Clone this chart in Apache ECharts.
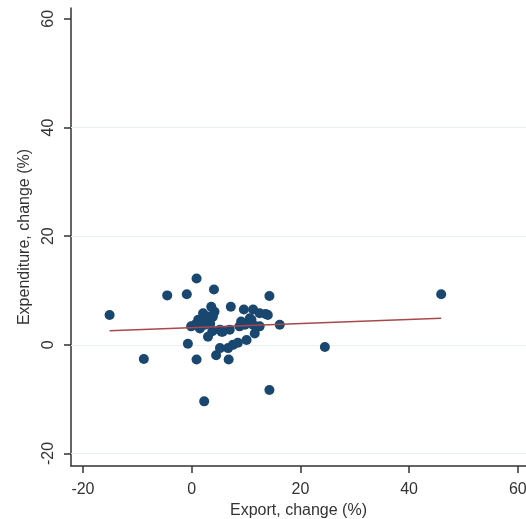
<!DOCTYPE html>
<html>
<head>
<meta charset="utf-8">
<script src="https://cdn.jsdelivr.net/npm/echarts@6/dist/echarts.min.js"></script>
<style>
  html, body { margin: 0; padding: 0; background: #ffffff; }
  #chart { width: 526px; height: 519px; }
</style>
</head>
<body>
<div id="chart"></div>
<script>
// Export change (%) vs expenditure change (%)
const exportChange = [
  -15.1, -8.8, -4.5, -0.9, 0.9, 4.1, 14.3, -0.7, 0.9, 2.3,
  14.3, 6.8, 16.2, 7.2, 9.6, 11.3, 13.6, 14.0, 3.6, 2.1,
  4.2, 1.2, 3.0, 0.6, -0.1, 2.4, 1.5, 3.0, 3.8, 5.2,
  7.0, 5.7, 10.7, 11.3, 9.8, 12.5, 8.8, 4.5, 5.2, 6.7,
  8.5, 10.1, 11.6, 11.9, 12.5, 24.5, 45.9, 1.8, 3.4, 7.6,
  9.1, 11.0, 5.5, 3.9
];
const expenditureChange = [
  5.5, -2.6, 9.1, 9.3, 12.2, 10.2, 9.0, 0.2, -2.7, -10.4,
  -8.3, -2.7, 3.7, 7.0, 6.5, 6.5, 5.7, 5.5, 7.0, 5.8,
  6.1, 4.6, 5.2, 3.7, 3.4, 3.7, 3.0, 1.5, 2.5, 2.8,
  2.8, 2.4, 4.9, 3.7, 3.7, 5.8, 3.4, -1.9, -0.6, -0.6,
  0.4, 0.9, 2.1, 3.2, 3.4, -0.4, 9.3, 4.3, 3.9, 0.0,
  4.3, 4.6, 2.4, 5.2
];
// Fitted line end points
const fitX = [-15.1, 45.9];
const fitY = [2.6, 4.9];

const xTicks = [-20, 0, 20, 40, 60];
const yTicks = [-20, 0, 20, 40, 60];
const yGridValues = [-20, 0, 20, 40];

const points = exportChange.map((x, i) => [x, expenditureChange[i]]);
const fitLine = fitX.map((x, i) => [x, fitY[i]]);

const textColor = '#333333';
const fontFamily = '"Liberation Sans", Arial, sans-serif';

const chart = echarts.init(document.getElementById('chart'), null, { renderer: 'canvas' });
chart.setOption({
  animation: false,
  backgroundColor: '#ffffff',
  grid: { left: 71, right: 0, top: 8, bottom: 53, containLabel: false, outerBoundsMode: 'none' },
  xAxis: {
    type: 'value',
    min: -22.2,
    max: 61.5,
    name: 'Export, change (%)',
    nameLocation: 'middle',
    nameGap: 34,
    nameTextStyle: { color: textColor, fontSize: 16, fontFamily: fontFamily },
    axisLine: { show: true, onZero: false, lineStyle: { color: '#333333', width: 1.5 } },
    axisTick: { show: true, customValues: xTicks, length: 7, lineStyle: { color: '#333333', width: 1.5 } },
    axisLabel: { customValues: xTicks, margin: 16, color: textColor, fontSize: 16, fontFamily: fontFamily, showMinLabel: true, showMaxLabel: true },
    splitLine: { show: false }
  },
  yAxis: {
    type: 'value',
    min: -22.3,
    max: 62.0,
    name: 'Expenditure, change (%)',
    nameLocation: 'middle',
    nameGap: 38,
    nameTextStyle: { color: textColor, fontSize: 16, fontFamily: fontFamily },
    axisLine: { show: true, onZero: false, lineStyle: { color: '#333333', width: 1.5 } },
    axisTick: { show: true, customValues: yTicks, length: 7, lineStyle: { color: '#333333', width: 1.5 } },
    axisLabel: { customValues: yTicks, rotate: 90, margin: 14, color: textColor, fontSize: 16, fontFamily: fontFamily, showMinLabel: true, showMaxLabel: true },
    splitLine: { show: false }
  },
  series: [
    {
      type: 'scatter',
      data: points,
      symbol: 'circle',
      symbolSize: 10,
      itemStyle: { color: '#1a476f', opacity: 1 },
      z: 3,
      markLine: {
        silent: true,
        symbol: ['none', 'none'],
        label: { show: false },
        lineStyle: { color: '#e8f0f2', width: 1, type: 'solid' },
        data: yGridValues.map(v => ({ yAxis: v })),
        z: 1
      }
    },
    {
      type: 'line',
      data: fitLine,
      showSymbol: false,
      lineStyle: { color: '#a8484e', width: 1.5 },
      z: 4
    }
  ]
});
</script>
</body>
</html>
